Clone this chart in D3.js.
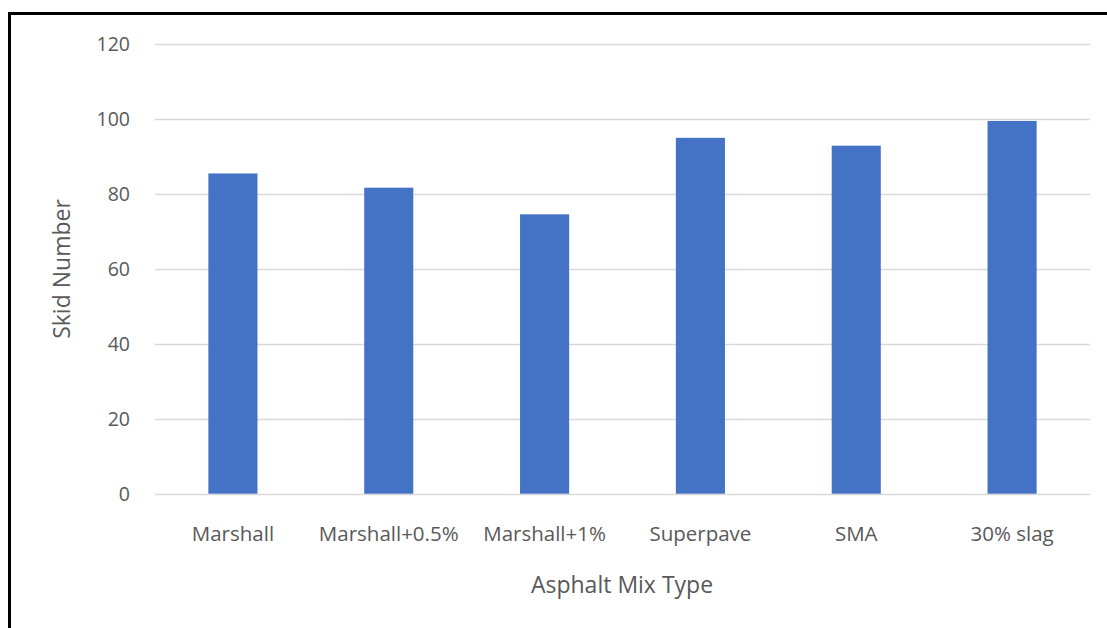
<!DOCTYPE html>
<html>
<head>
<meta charset="utf-8">
<script src="https://cdn.jsdelivr.net/npm/d3@7"></script>
<style>
  html, body { margin: 0; padding: 0; background: #fff; }
  svg { display: block; }
  text { font-family: "Open Sans", "Noto Sans", sans-serif; fill: #595959; }
</style>
</head>
<body>
<div id="chart"></div>
<script>
// Skid number per asphalt mix type
var categories = ['Marshall', 'Marshall+0.5%', 'Marshall+1%', 'Superpave', 'SMA', '30% slag'];
var skidValues = [85.4, 81.6, 74.5, 94.9, 92.8, 99.4];
var yTicks = [0, 20, 40, 60, 80, 100, 120];

(function() {
    'use strict';

    var width = 1107, height = 628;
    var plot = { left: 155, right: 1090, top: 43.7, bottom: 493.7 };

    var svg = d3.select('#chart').append('svg')
        .attr('width', width)
        .attr('height', height);

    // Frame (top + left edge only visible)
    svg.append('path')
        .attr('d', 'M9.5,' + height + 'V13.5H' + width)
        .attr('fill', 'none')
        .attr('stroke', '#000')
        .attr('stroke-width', 3);

    var x = d3.scaleBand()
        .domain(categories)
        .range([plot.left, plot.right]);

    var y = d3.scaleLinear()
        .domain([0, 120])
        .range([plot.bottom, plot.top]);

    // Gridlines
    svg.append('g').selectAll('line')
        .data(yTicks)
        .join('line')
        .attr('x1', plot.left)
        .attr('x2', plot.right)
        .attr('y1', function(d) { return Math.round(y(d)) + 0.5; })
        .attr('y2', function(d) { return Math.round(y(d)) + 0.5; })
        .attr('stroke', '#d9d9d9')
        .attr('stroke-width', 1.5);

    // Y labels
    svg.append('g').selectAll('text')
        .data(yTicks)
        .join('text')
        .attr('x', 130)
        .attr('y', function(d) { return y(d); })
        .attr('dy', '0.35em')
        .attr('text-anchor', 'end')
        .attr('font-size', 19.5)
        .text(function(d) { return d; });

    // Bars
    var barW = x.bandwidth() * 0.315;
    svg.append('g').selectAll('rect')
        .data(skidValues)
        .join('rect')
        .attr('x', function(d, i) { return x(categories[i]) + (x.bandwidth() - barW) / 2; })
        .attr('y', function(d) { return y(d); })
        .attr('width', barW)
        .attr('height', function(d) { return y(0) - y(d); })
        .attr('fill', '#4472c4');

    // X labels
    svg.append('g').selectAll('text')
        .data(categories)
        .join('text')
        .attr('x', function(d) { return x(d) + x.bandwidth() / 2; })
        .attr('y', 534)
        .attr('dy', '0.35em')
        .attr('text-anchor', 'middle')
        .attr('font-size', 20.5)
        .text(function(d) { return d; });

    // Axis titles
    svg.append('text')
        .attr('x', 622)
        .attr('y', 585)
        .attr('dy', '0.35em')
        .attr('text-anchor', 'middle')
        .attr('font-size', 23)
        .text('Asphalt Mix Type');

    svg.append('text')
        .attr('transform', 'translate(62,269) rotate(-90)')
        .attr('dy', '0.35em')
        .attr('text-anchor', 'middle')
        .attr('font-size', 23)
        .text('Skid Number');
})();
</script>
</body>
</html>
